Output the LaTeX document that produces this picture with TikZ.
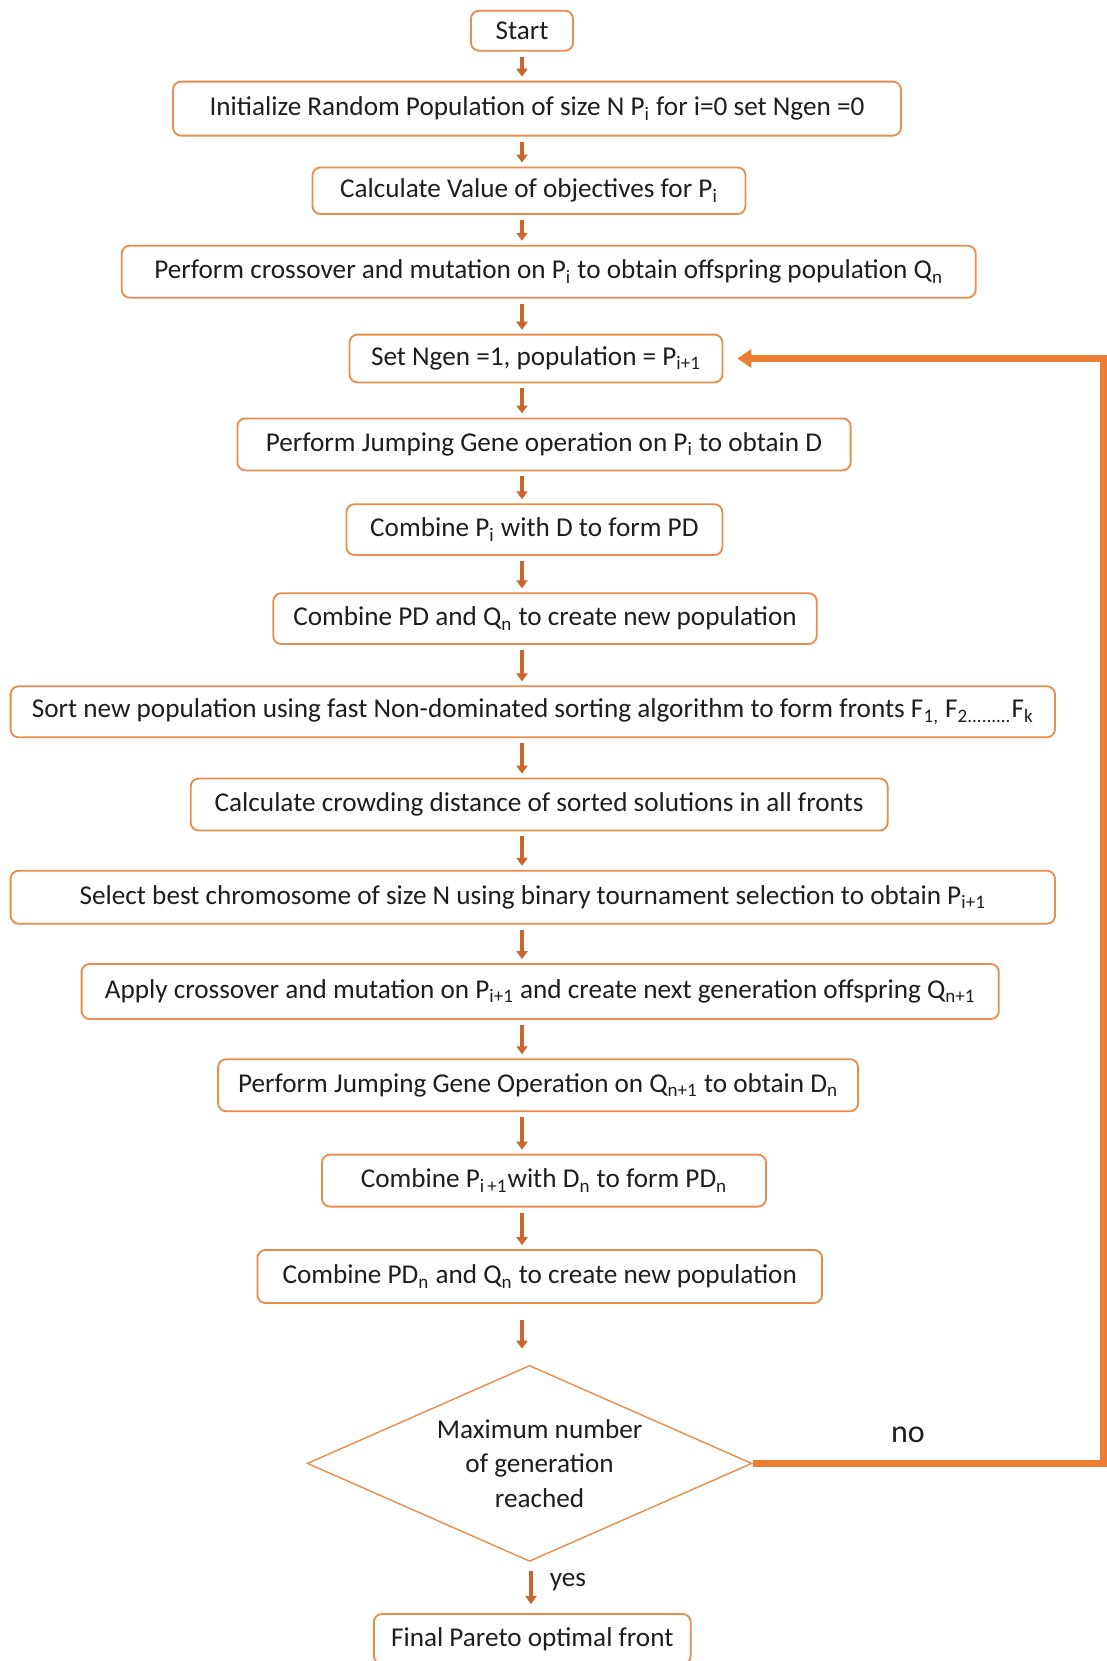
\documentclass[tikz,border=0pt]{standalone}
\usepackage{fontspec}
\setmainfont{Carlito}
\usetikzlibrary{arrows.meta,shapes.geometric}
\definecolor{boxline}{RGB}{233,140,78}
\definecolor{arrowcol}{RGB}{200,104,48}
\definecolor{loopcol}{RGB}{237,125,49}
\definecolor{txt}{RGB}{30,30,30}
\newcommand\dn[1]{\textsubscript{#1}}
\begin{document}
\begin{tikzpicture}[x=0.5pt,y=-0.5pt,
  stepbox/.style={draw=boxline, line width=0.9pt, rounded corners=4pt, fill=white,
    inner sep=0pt, text=txt, font=\fontsize{13.6}{16}\selectfont},
  decbox/.style={diamond, draw=boxline, line width=0.7pt, fill=white, inner sep=0pt,
    aspect=2.27, text=txt, align=center, font=\fontsize{13.6}{17.25}\selectfont},
  flow/.style={draw=arrowcol, line width=2.3pt, -{Triangle[width=5.5pt,length=4pt]},
    shorten <=2.5pt, shorten >=2pt},
  loopline/.style={draw=loopcol, line width=3.5pt, line join=miter,
    -{Triangle[width=9pt,length=7pt]}, shorten >=7pt},
  lbl/.style={text=txt, inner sep=0pt}
]
\useasboundingbox[fill=white] (0,0) rectangle (1107,1661);

% process steps
\node[stepbox, minimum width=51pt,    minimum height=20pt]   (start) at (522,30.7) {Start};
\node[stepbox, minimum width=364pt,   minimum height=27pt]   (init)  at (537,108.6) {Initialize Random Population of size N P\dn{i} for i=0 set Ngen =0};
\node[stepbox, minimum width=216.5pt, minimum height=23.3pt] (calc)  at (529,190.7) {Calculate Value of objectives for P\dn{i}};
\node[stepbox, minimum width=427pt,   minimum height=26pt]   (cross) at (548.7,271.7) {Perform crossover and mutation on P\dn{i} to obtain offspring population Q\dn{n}};
\node[stepbox, minimum width=186.5pt, minimum height=23.9pt] (setn)  at (536,358.5) {Set Ngen =1, population = P\dn{i+1}};
\node[stepbox, minimum width=306.6pt, minimum height=26pt]   (jg)    at (544,444.4) {Perform Jumping Gene operation on P\dn{i} to obtain D};
\node[stepbox, minimum width=188pt,   minimum height=25.4pt] (cpd)   at (534.4,529.6) {Combine P\dn{i} with D to form PD};
\node[stepbox, minimum width=271.7pt, minimum height=25.4pt] (cnew)  at (545,618.6) {Combine PD and Q\dn{n} to create new population};
\node[stepbox, minimum width=522.2pt, minimum height=25.5pt] (sort)  at (532.8,711.8) {Sort new population using fast Non-dominated sorting algorithm to form fronts F\dn{1,} F\dn{2.........}F\dn{k}};
\node[stepbox, minimum width=348.5pt, minimum height=26pt]   (crowd) at (539.2,804.5) {Calculate crowding distance of sorted solutions in all fronts};
\node[stepbox, minimum width=522.2pt, minimum height=26.5pt] (sel)   at (532.8,897.2) {Select best chromosome of size N using binary tournament selection to obtain P\dn{i+1}};
\node[stepbox, minimum width=458.6pt, minimum height=27.5pt] (apply) at (540.2,991.5) {Apply crossover and mutation on P\dn{i+1} and create next generation offspring Q\dn{n+1}};
\node[stepbox, minimum width=320pt,   minimum height=26pt]   (jgop)  at (538.1,1085.2) {Perform Jumping Gene Operation on Q\dn{n+1} to obtain D\dn{n}};
\node[stepbox, minimum width=222pt,   minimum height=26pt]   (cpdn)  at (544,1180.6) {Combine P\dn{i\,+1}with D\dn{n} to form PD\dn{n}};
\node[stepbox, minimum width=282.3pt, minimum height=26.5pt] (cnewn) at (539.7,1276.5) {Combine PD\dn{n} and Q\dn{n} to create new population};
\node[decbox, minimum width=222.4pt, minimum height=98pt]     (dec)   at (529.6,1463.4) {\hspace*{10pt}Maximum number\\\hspace*{10pt}of generation\\\hspace*{10pt}reached};
\node[stepbox, minimum width=158.4pt, minimum height=25pt]   (final) at (532.3,1639) {Final Pareto optimal front};

% guide columns for the connectors
\coordinate (axis) at (522,0);
\coordinate (yesaxis) at (531,0);
\coordinate (loopx) at (1103,0);

% main flow
\draw[flow] (start.south -| axis) -- (init.north -| axis);
\draw[flow] (init.south -| axis)  -- (calc.north -| axis);
\draw[flow] (calc.south -| axis)  -- (cross.north -| axis);
\draw[flow] (cross.south -| axis) -- (setn.north -| axis);
\draw[flow] (setn.south -| axis)  -- (jg.north -| axis);
\draw[flow] (jg.south -| axis)    -- (cpd.north -| axis);
\draw[flow] (cpd.south -| axis)   -- (cnew.north -| axis);
\draw[flow] (cnew.south -| axis)  -- (sort.north -| axis);
\draw[flow] (sort.south -| axis)  -- (crowd.north -| axis);
\draw[flow] (crowd.south -| axis) -- (sel.north -| axis);
\draw[flow] (sel.south -| axis)   -- (apply.north -| axis);
\draw[flow] (apply.south -| axis) -- (jgop.north -| axis);
\draw[flow] (jgop.south -| axis)  -- (cpdn.north -| axis);
\draw[flow] (cpdn.south -| axis)  -- (cnewn.north -| axis);
\draw[flow, shorten <=8pt, shorten >=8pt] (cnewn.south -| axis) -- (dec.north -| axis);
\draw[flow, shorten <=4.5pt, shorten >=4.5pt] (dec.south -| yesaxis) -- (final.north -| yesaxis);

% loop back when the generation limit is not reached
\draw[loopline] (dec.east) -- (loopx |- dec.east) -- (loopx |- setn.east) -- (setn.east);

% branch labels
\node[lbl, font=\fontsize{16}{19}\selectfont] (no) at (908,1435) {no};
\node[lbl, font=\fontsize{13.6}{16}\selectfont] (yes) at (568,1582) {yes};
\end{tikzpicture}
\end{document}
